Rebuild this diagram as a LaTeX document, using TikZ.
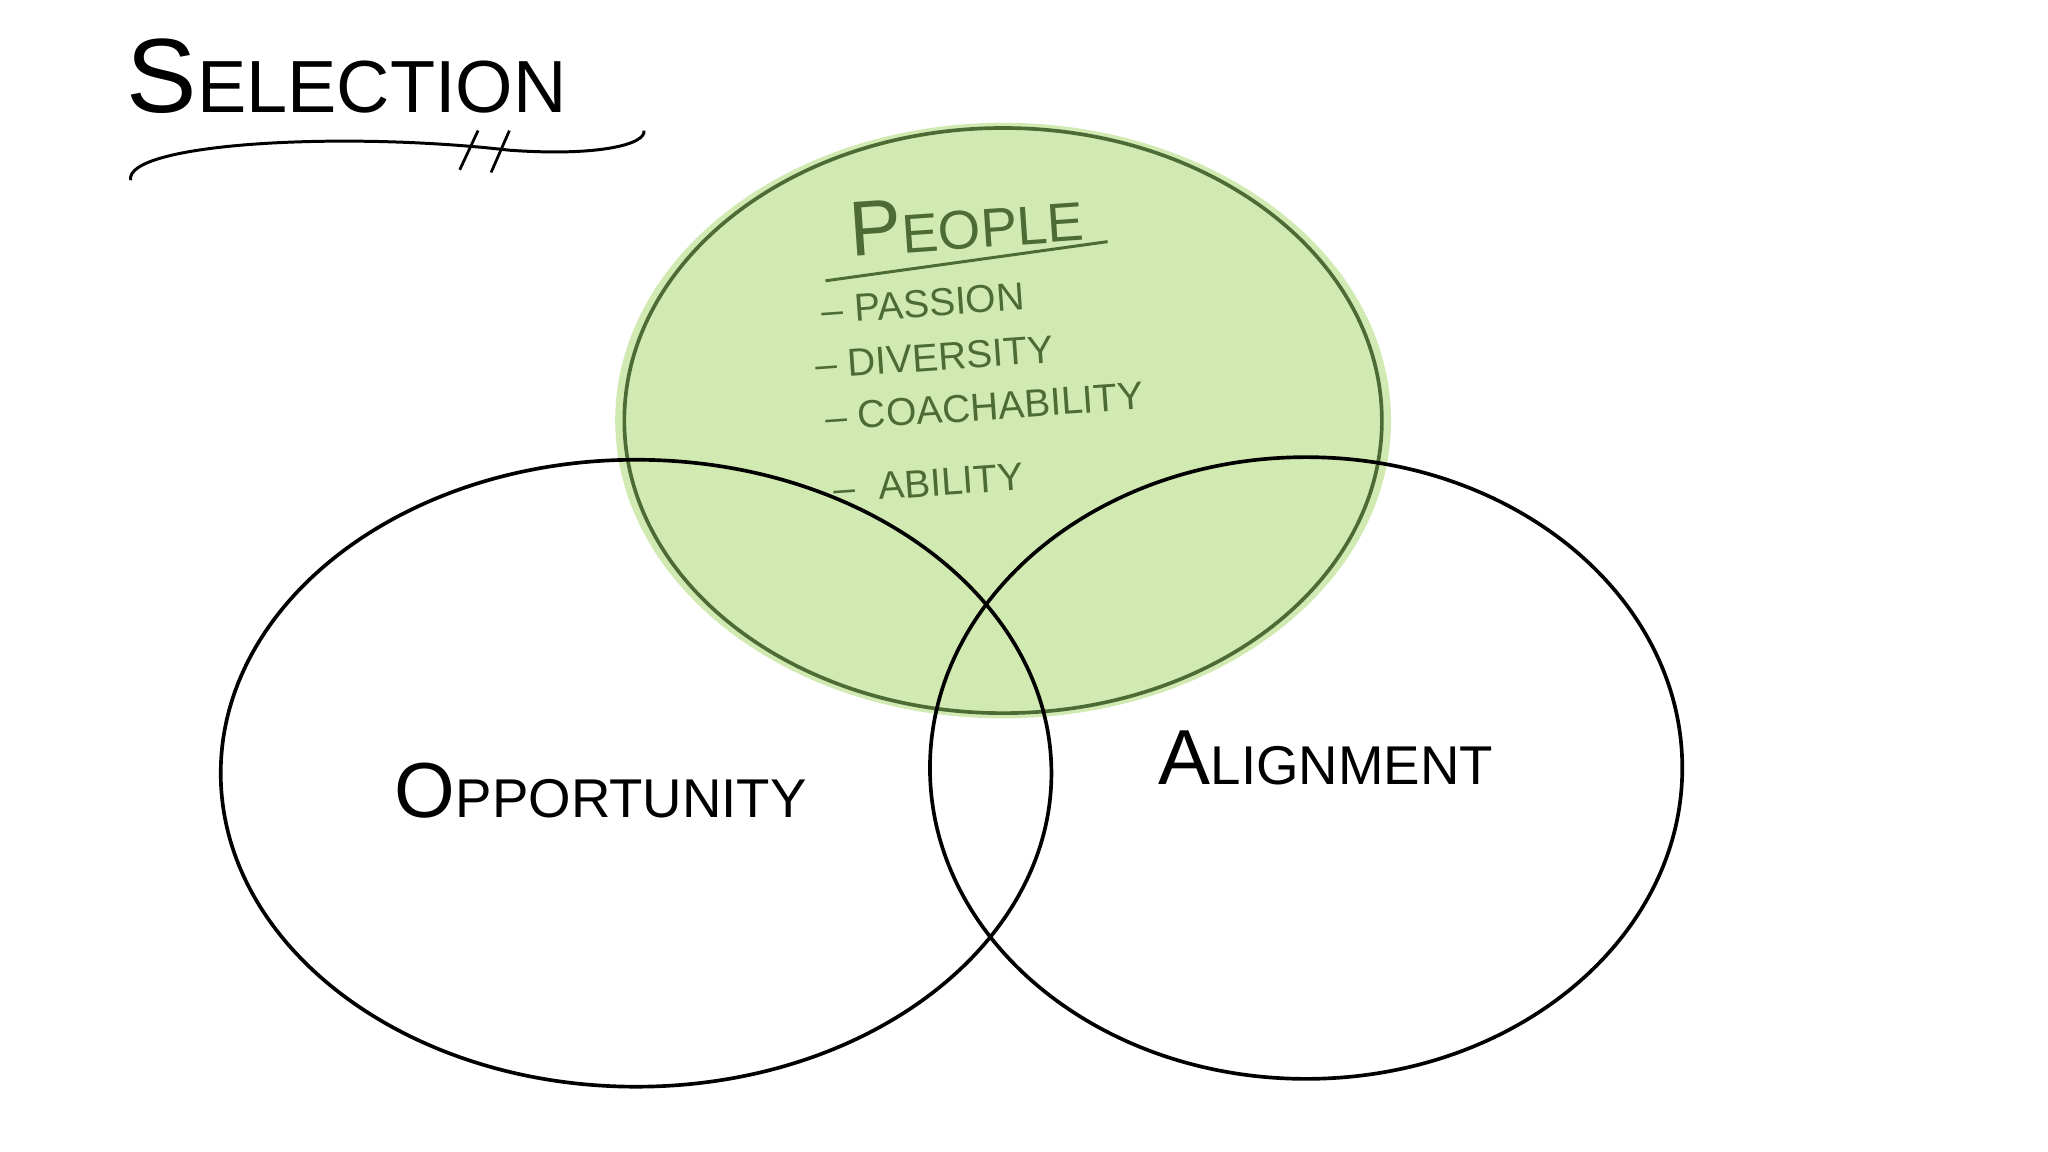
\documentclass[tikz,border=0pt]{standalone}
\usepackage{fontspec}
\setmainfont{Liberation Sans}
\definecolor{gfill}{HTML}{D1EAB2}
\definecolor{gline}{HTML}{4D6B35}
\newcommand{\capsz}[3]{{\fontsize{#1}{#1}\selectfont #2}{\fontsize{#1}{#1}\selectfont\fontsize{\dimexpr #1pt*7/10\relax}{#1}\selectfont #3}}
\begin{document}
\begin{tikzpicture}[x=0.02cm,y=-0.02cm,
  ring/.style={line width=1.6pt,black},
  hand/.style={inner sep=1pt},
  item/.style={font=\fontsize{17}{20}\selectfont,text=gline,anchor=west,rotate=4,inner sep=1pt}]
\useasboundingbox (0,0) rectangle (1568,882);
% green circle
\fill[gfill] (768,322) ellipse [x radius=297, y radius=228];
\draw[gline,line width=1.6pt] (768,322) ellipse [x radius=290, y radius=224];
% other circles
\draw[ring] (487,592) ellipse [x radius=318, y radius=240];
\draw[ring] (1000,588) ellipse [x radius=288, y radius=238];
% title
\node[hand,anchor=west] (title) at (95,58) {\capsz{46}{S}{ELECTION}};
\draw[line width=1.3pt] (100,138) .. controls (95,110) and (260,100) .. (390,115) .. controls (460,120) and (495,110) .. (493,100);
\draw[line width=1.2pt] (366,100) -- (352,130) (390,100) -- (376,132);
% people
\node[hand,text=gline,rotate=4] (people) at (740,170) {\capsz{34}{P}{EOPLE}};
\draw[gline,line width=1.3pt] (632,215) -- (848,185);
\node[item] (i1) at (627,238) {– PASSION};
\node[item] (i2) at (622,280) {– DIVERSITY};
\node[item] (i3) at (630,320) {– COACHABILITY};
\node[item] (i4) at (636,375) {–\hspace{0.6em}ABILITY};
\node[hand] (opp) at (460,605) {\capsz{34}{O}{PPORTUNITY}};
\node[hand] (ali) at (1015,580) {\capsz{34}{A}{LIGNMENT}};
\end{tikzpicture}
\end{document}
